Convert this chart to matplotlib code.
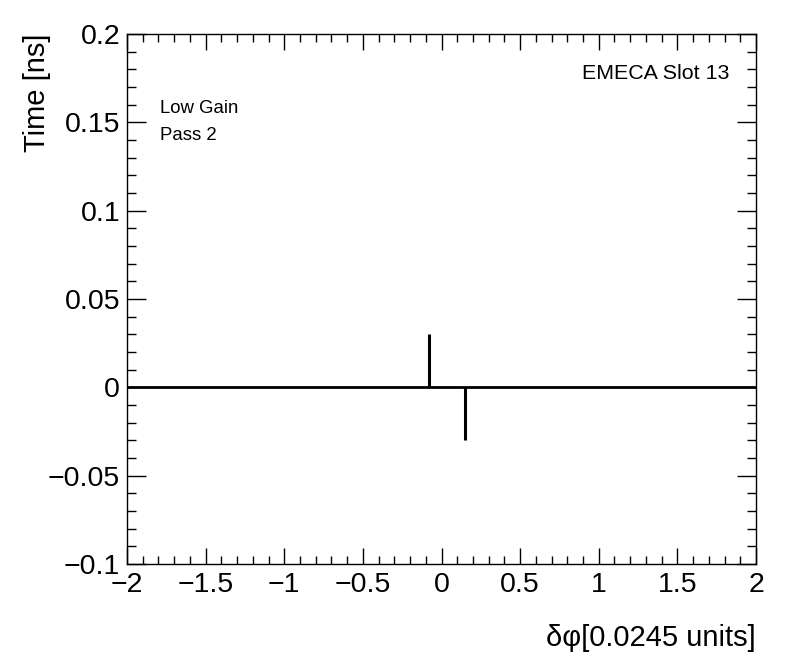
import numpy as np
import matplotlib
matplotlib.use("Agg")
import matplotlib.pyplot as plt
from matplotlib.ticker import MultipleLocator

plt.rcParams['font.family'] = ['Liberation Sans', 'DejaVu Sans']

# dane
x_range = (-2, 2)
y_range = (-0.1, 0.2)
spike_x = [-0.078, 0.151]
spike_y = [0.03, -0.03]

xticks = [-2, -1.5, -1, -0.5, 0, 0.5, 1, 1.5, 2]
xticklabels = ['\u22122', '\u22121.5', '\u22121', '\u22120.5', '0', '0.5', '1', '1.5', '2']
yticks = [-0.1, -0.05, 0, 0.05, 0.1, 0.15, 0.2]
yticklabels = ['\u22120.1', '\u22120.05', '0', '0.05', '0.1', '0.15', '0.2']

fig = plt.figure(figsize=(7.96, 6.72), dpi=100)
ax = fig.add_axes([127/796, 108/672, 629/796, 530/672])

# linia zerowa i piki
ax.hlines(0, x_range[0], x_range[1], color='black', lw=2)
ax.vlines(spike_x, 0, spike_y, color='black', lw=2.2)

ax.set_xlim(*x_range)
ax.set_ylim(*y_range)

ax.set_xticks(xticks)
ax.set_xticklabels(xticklabels)
ax.set_yticks(yticks)
ax.set_yticklabels(yticklabels)
ax.xaxis.set_minor_locator(MultipleLocator(0.1))
ax.yaxis.set_minor_locator(MultipleLocator(0.01))

ax.tick_params(axis='both', which='both', direction='in', top=True, right=True, width=1, labelsize=20.5)
ax.tick_params(axis='x', which='major', length=11.5, pad=6)
ax.tick_params(axis='x', which='minor', length=5.8)
ax.tick_params(axis='y', which='major', length=13.7, pad=5)
ax.tick_params(axis='y', which='minor', length=6.5)
for s in ax.spines.values():
    s.set_linewidth(1)

ax.set_xlabel('\u03b4\u03c6[0.0245 units]', fontsize=21, loc='right')
ax.xaxis.set_label_coords(1.0, -0.113)
ax.set_ylabel('Time [ns]', fontsize=21, loc='top')
ax.yaxis.set_label_coords(-0.121, 1.0)

ax.text(0.957, 0.926, 'EMECA Slot 13', transform=ax.transAxes, fontsize=15.4, ha='right', va='center')
ax.text(0.052, 0.860, 'Low Gain', transform=ax.transAxes, fontsize=13.4, ha='left', va='center')
ax.text(0.052, 0.809, 'Pass 2', transform=ax.transAxes, fontsize=13.4, ha='left', va='center')

fig.savefig('out.png', dpi=100)
